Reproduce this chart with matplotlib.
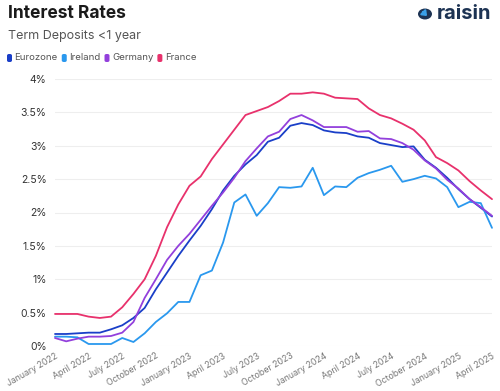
import matplotlib
matplotlib.use("Agg")
import matplotlib.pyplot as plt
from matplotlib.patches import FancyBboxPatch, Circle, FancyArrowPatch
import numpy as np

plt.rcParams["font.family"] = ["Inter", "DejaVu Sans"]

# =====================================
# DATA (monthly, Jan 2022 - Apr 2025)
# =====================================

months = np.arange(40)

eurozone = [0.18, 0.18, 0.19, 0.20, 0.20, 0.25, 0.31, 0.42, 0.57, 0.85,
            1.10, 1.35, 1.58, 1.80, 2.05, 2.33, 2.55, 2.72, 2.86, 3.06,
            3.12, 3.30, 3.34, 3.31, 3.23, 3.20, 3.19, 3.14, 3.12, 3.04,
            3.01, 2.98, 2.99, 2.79, 2.67, 2.52, 2.35, 2.20, 2.07, 1.94]

ireland = [0.14, 0.14, 0.13, 0.03, 0.03, 0.03, 0.12, 0.06, 0.19, 0.36,
           0.49, 0.66, 0.66, 1.06, 1.13, 1.55, 2.15, 2.27, 1.95, 2.14,
           2.38, 2.37, 2.39, 2.67, 2.26, 2.39, 2.38, 2.52, 2.59, 2.64,
           2.70, 2.46, 2.50, 2.55, 2.51, 2.38, 2.08, 2.16, 2.14, 1.77]

germany = [0.12, 0.07, 0.11, 0.14, 0.14, 0.15, 0.20, 0.36, 0.72, 1.00,
           1.29, 1.50, 1.68, 1.89, 2.10, 2.30, 2.52, 2.77, 2.96, 3.14,
           3.21, 3.40, 3.46, 3.38, 3.28, 3.28, 3.28, 3.21, 3.22, 3.11,
           3.10, 3.04, 2.94, 2.78, 2.66, 2.49, 2.36, 2.20, 2.08, 1.95]

france = [0.48, 0.48, 0.48, 0.44, 0.42, 0.44, 0.58, 0.78, 1.00, 1.35,
          1.78, 2.12, 2.40, 2.54, 2.80, 3.02, 3.24, 3.46, 3.52, 3.58,
          3.67, 3.78, 3.78, 3.80, 3.78, 3.72, 3.71, 3.70, 3.56, 3.46,
          3.41, 3.33, 3.24, 3.08, 2.83, 2.74, 2.63, 2.47, 2.33, 2.20]

series = [("Eurozone", eurozone, "#1a3fc8"),
          ("Ireland", ireland, "#2a98ee"),
          ("Germany", germany, "#9340dc"),
          ("France", france, "#e8316c")]

tick_pos = np.arange(0, 40, 3)
tick_labels = ["January 2022", "April 2022", "July 2022", "October 2022",
               "January 2023", "April 2023", "July 2023", "October 2023",
               "January 2024", "April 2024", "July 2024", "October 2024",
               "January 2025", "April 2025"]

y_ticks = [0, 0.5, 1, 1.5, 2, 2.5, 3, 3.5, 4]
y_labels = ["0%", "0.5%", "1%", "1.5%", "2%", "2.5%", "3%", "3.5%", "4%"]

# =====================================
# FIGURE
# =====================================

W, H = 500, 391
fig = plt.figure(figsize=(5, 3.91), dpi=100)
ax = fig.add_axes([55 / W, 1 - 346 / H, (492 - 55) / W, (346 - 79) / H])

for name, vals, col in series:
    ax.plot(months, vals, color=col, linewidth=1.3, clip_on=False,
            solid_joinstyle="round", solid_capstyle="round")

ax.set_xlim(0, 39)
ax.set_ylim(0, 4)
ax.set_yticks(y_ticks)
ax.set_yticklabels(y_labels, fontsize=7.5, color="#333333")
ax.set_xticks(tick_pos)
ax.set_xticklabels(tick_labels, fontsize=6.3, color="#777777",
                   rotation=30, ha="right", rotation_mode="anchor")
ax.tick_params(axis="both", length=0)
ax.tick_params(axis="y", pad=6)
ax.tick_params(axis="x", pad=4)
ax.grid(axis="y", color="#eeeeee", linewidth=0.8)
ax.set_axisbelow(True)
for s in ax.spines.values():
    s.set_visible(False)

# =====================================
# HEADER
# =====================================

fig.text(8 / W, 1 - 14 / H, "Interest Rates", fontsize=12.5, fontweight="bold",
         color="#1a1a1a", va="center", ha="left")
fig.text(8 / W, 1 - 36 / H, "Term Deposits <1 year", fontsize=9,
         color="#555555", va="center", ha="left")

lx = 7
for name, vals, col in series:
    fig.patches.append(FancyBboxPatch((lx / W, 1 - 62 / H), 5 / W, 8 / H,
                                      boxstyle="round,pad=0,rounding_size=0.004",
                                      transform=fig.transFigure,
                                      facecolor=col, edgecolor="none"))
    t = fig.text((lx + 7.5) / W, 1 - 58 / H, name, fontsize=6.9,
                 color="#555555", va="center", ha="left")
    fig.canvas.draw()
    bb = t.get_window_extent()
    lx = bb.x1 + 4

# logo
navy = "#1d3353"
fig.patches.append(Circle((425 / W, 1 - 14 / H), 7 / W,
                          transform=fig.transFigure, facecolor=navy,
                          edgecolor="none"))
fig.patches.append(FancyArrowPatch((421 / W, 1 - 10 / H), (429 / W, 1 - 18 / H),
                                   transform=fig.transFigure,
                                   arrowstyle="-|>,head_length=2.5,head_width=2",
                                   color="#3aa0e8", linewidth=1.6))
fig.text(437 / W, 1 - 14 / H, "raisin", fontsize=14.5, fontweight="bold",
         color=navy, va="center", ha="left")

fig.savefig("out.png", dpi=100, facecolor="white")
